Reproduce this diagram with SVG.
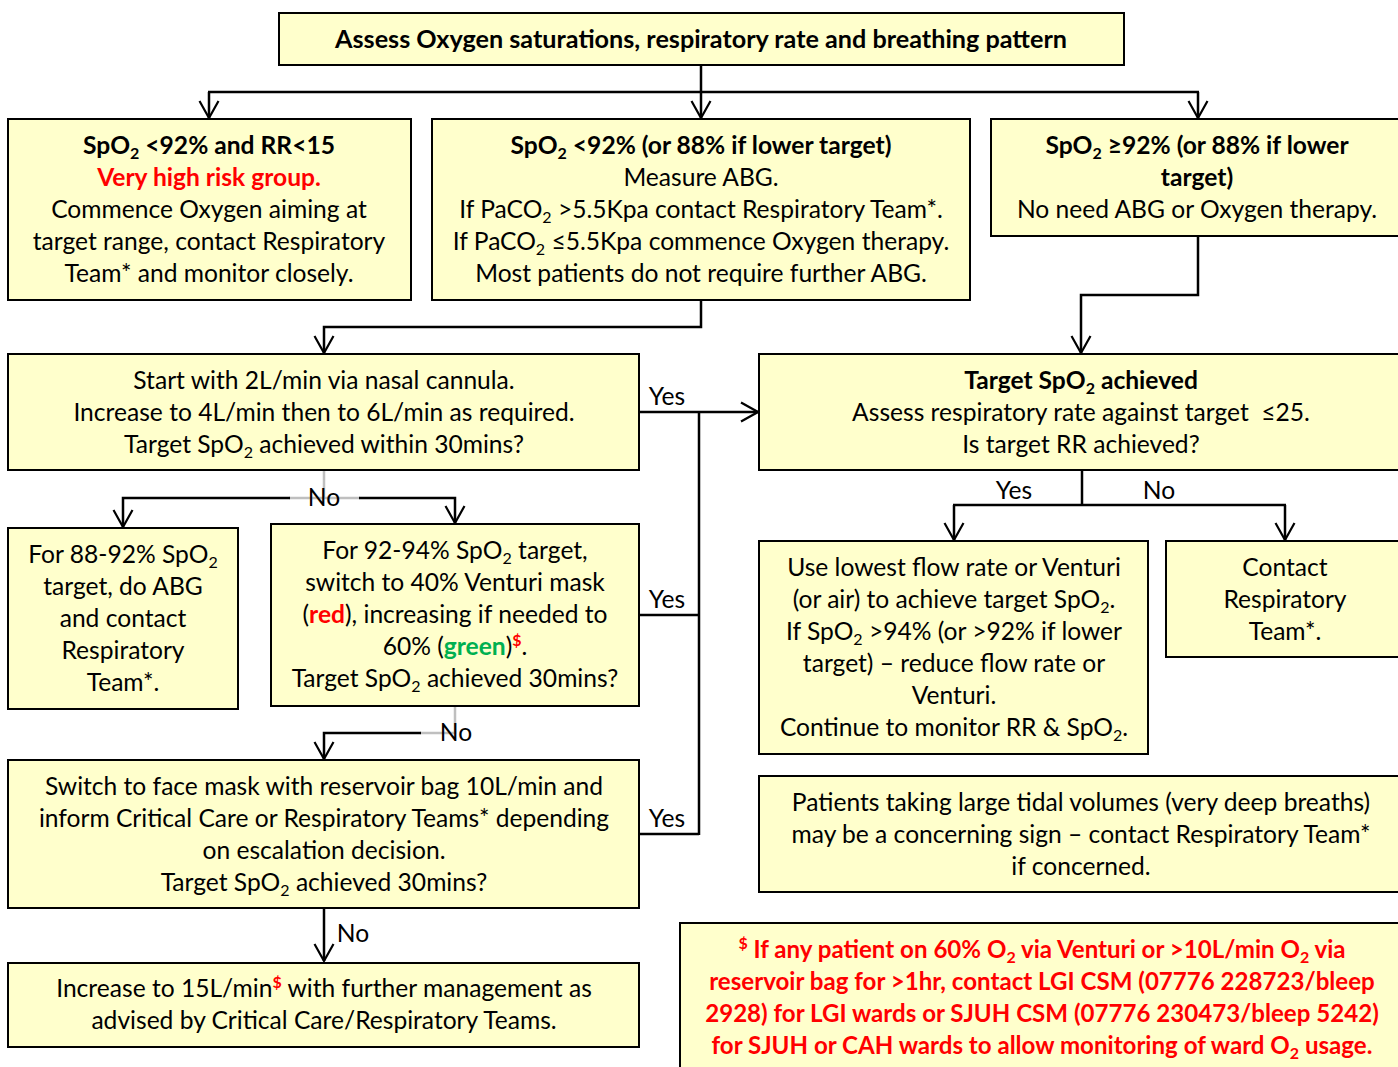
<svg xmlns="http://www.w3.org/2000/svg" width="1398" height="1067" viewBox="0 0 1398 1067">
<style>
.box{fill:#FFFFCC;stroke:#000;stroke-width:2}
text{font-family:Lato,"Liberation Sans",sans-serif;font-size:24.6px;fill:#000;text-anchor:middle}
.b{font-weight:bold}
.title{font-size:25.2px}
.red{fill:#FF0000}
.grn{fill:#00B050}
.fn{font-size:24.1px}
.sub{font-size:16px;baseline-shift:-5px}
.sup{font-size:16px;baseline-shift:9px;font-weight:bold;fill:#FF0000}
.ln{fill:none;stroke:#000;stroke-width:2.5}
.gr{fill:none;stroke:#BFBFBF;stroke-width:2.5}
</style>
<defs>
<marker id="arr" viewBox="-20 -12 22 24" markerWidth="22" markerHeight="24" refX="0" refY="0" markerUnits="userSpaceOnUse" orient="auto">
<path d="M-17,-9.5 L0,0 L-17,9.5" fill="none" stroke="#000" stroke-width="2.2"/>
</marker>
</defs>
<rect width="1398" height="1067" fill="#fff"/>

<g id="connectors">
<path class="ln" d="M701,65 V92"/>
<path class="ln" d="M208,92 H1199"/>
<path class="ln" d="M209,92 V118" marker-end="url(#arr)"/>
<path class="ln" d="M701,92 V118" marker-end="url(#arr)"/>
<path class="ln" d="M1198,92 V118" marker-end="url(#arr)"/>
<path class="ln" d="M701,300 V327 H324 V353" marker-end="url(#arr)"/>
<path class="ln" d="M1198,236 V295 H1081 V353" marker-end="url(#arr)"/>
<path class="ln" d="M640,412 H758" marker-end="url(#arr)"/>
<path class="ln" d="M699,412 V835"/>
<path class="ln" d="M640,615 H699"/>
<path class="ln" d="M640,834 H699"/>
<path class="gr" d="M324,470 V498 M289,498 H360"/>
<path class="ln" d="M290,498 H123 V527" marker-end="url(#arr)"/>
<path class="ln" d="M359,498 H455 V523" marker-end="url(#arr)"/>
<path class="gr" d="M455,706 V733 H420"/>
<path class="ln" d="M421,733 H324 V759" marker-end="url(#arr)"/>
<path class="ln" d="M324,908 V961" marker-end="url(#arr)"/>
<path class="ln" d="M1082,470 V505"/>
<path class="ln" d="M953,505 H1286"/>
<path class="ln" d="M954,505 V540" marker-end="url(#arr)"/>
<path class="ln" d="M1285,505 V540" marker-end="url(#arr)"/>
<text x="667" y="405">Yes</text>
<text x="667" y="608">Yes</text>
<text x="667" y="827">Yes</text>
<text x="324" y="506">No</text>
<text x="456" y="741">No</text>
<text x="353" y="942">No</text>
<text x="1014" y="499">Yes</text>
<text x="1159" y="499">No</text>
</g>

<g id="assess">
<rect class="box" x="279" y="13" width="845" height="52"/>
<text class="b title" x="701" y="48">Assess Oxygen saturations, respiratory rate and breathing pattern</text>
</g>

<g id="very-high-risk">
<rect class="box" x="8" y="119" width="403" height="181"/>
<text class="b" x="209" y="154">SpO<tspan class="sub">2</tspan> &lt;92% and RR&lt;15</text>
<text class="b red" x="209" y="186">Very high risk group.</text>
<text x="209" y="218">Commence Oxygen aiming at</text>
<text x="209" y="250">target range, contact Respiratory</text>
<text x="209" y="282">Team* and monitor closely.</text>
</g>

<g id="measure-abg">
<rect class="box" x="432" y="119" width="538" height="181"/>
<text class="b" x="701" y="154">SpO<tspan class="sub">2</tspan> &lt;92% (or 88% if lower target)</text>
<text x="701" y="186">Measure ABG.</text>
<text x="701" y="218">If PaCO<tspan class="sub">2</tspan> &gt;5.5Kpa contact Respiratory Team*.</text>
<text x="701" y="250">If PaCO<tspan class="sub">2</tspan> ≤5.5Kpa commence Oxygen therapy.</text>
<text x="701" y="282">Most patients do not require further ABG.</text>
</g>

<g id="no-need">
<rect class="box" x="991" y="119" width="415" height="117"/>
<text class="b" x="1197" y="154">SpO<tspan class="sub">2</tspan> ≥92% (or 88% if lower</text>
<text class="b" x="1197" y="186">target)</text>
<text x="1197" y="218">No need ABG or Oxygen therapy.</text>
</g>

<g id="nasal-cannula">
<rect class="box" x="8" y="354" width="631" height="116"/>
<text x="324" y="389">Start with 2L/min via nasal cannula.</text>
<text x="324" y="421">Increase to 4L/min then to 6L/min as required.</text>
<text x="324" y="453">Target SpO<tspan class="sub">2</tspan> achieved within 30mins?</text>
</g>

<g id="target-achieved">
<rect class="box" x="759" y="354" width="647" height="116"/>
<text class="b" x="1081" y="389">Target SpO<tspan class="sub">2</tspan> achieved</text>
<text x="1081" y="421">Assess respiratory rate against target&#160; ≤25.</text>
<text x="1081" y="453">Is target RR achieved?</text>
</g>

<g id="abg-88-92">
<rect class="box" x="8" y="528" width="230" height="181"/>
<text x="123" y="563">For 88-92% SpO<tspan class="sub">2</tspan></text>
<text x="123" y="595">target, do ABG</text>
<text x="123" y="627">and contact</text>
<text x="123" y="659">Respiratory</text>
<text x="123" y="691">Team*.</text>
</g>

<g id="venturi">
<rect class="box" x="271" y="524" width="368" height="182"/>
<text x="455" y="559">For 92-94% SpO<tspan class="sub">2</tspan> target,</text>
<text x="455" y="591">switch to 40% Venturi mask</text>
<text x="455" y="623">(<tspan class="b red">red</tspan>), increasing if needed to</text>
<text x="455" y="655">60% (<tspan class="b grn">green</tspan>)<tspan class="sup">$</tspan>.</text>
<text x="455" y="687">Target SpO<tspan class="sub">2</tspan> achieved 30mins?</text>
</g>

<g id="reservoir">
<rect class="box" x="8" y="760" width="631" height="148"/>
<text x="324" y="795">Switch to face mask with reservoir bag 10L/min and</text>
<text x="324" y="827">inform Critical Care or Respiratory Teams* depending</text>
<text x="324" y="859">on escalation decision.</text>
<text x="324" y="891">Target SpO<tspan class="sub">2</tspan> achieved 30mins?</text>
</g>

<g id="increase-15">
<rect class="box" x="8" y="963" width="631" height="84"/>
<text x="324" y="997">Increase to 15L/min<tspan class="sup">$</tspan> with further management as</text>
<text x="324" y="1029">advised by Critical Care/Respiratory Teams.</text>
</g>

<g id="lowest-flow">
<rect class="box" x="759" y="541" width="389" height="213"/>
<text x="954" y="576">Use lowest flow rate or Venturi</text>
<text x="954" y="608">(or air) to achieve target SpO<tspan class="sub">2</tspan>.</text>
<text x="954" y="640">If SpO<tspan class="sub">2</tspan> &gt;94% (or &gt;92% if lower</text>
<text x="954" y="672">target) – reduce flow rate or</text>
<text x="954" y="704">Venturi.</text>
<text x="954" y="736">Continue to monitor RR &amp; SpO<tspan class="sub">2</tspan>.</text>
</g>

<g id="contact-resp">
<rect class="box" x="1166" y="541" width="240" height="116"/>
<text x="1285" y="576">Contact</text>
<text x="1285" y="608">Respiratory</text>
<text x="1285" y="640">Team*.</text>
</g>

<g id="tidal-volumes">
<rect class="box" x="759" y="776" width="647" height="116"/>
<text x="1081" y="811">Patients taking large tidal volumes (very deep breaths)</text>
<text x="1081" y="843">may be a concerning sign – contact Respiratory Team*</text>
<text x="1081" y="875">if concerned.</text>
</g>

<g id="footnote">
<rect class="box" x="680" y="923" width="726" height="160"/>
<text class="b red fn" x="1042" y="958"><tspan class="sup">$</tspan> If any patient on 60% O<tspan class="sub">2</tspan> via Venturi or &gt;10L/min O<tspan class="sub">2</tspan> via</text>
<text class="b red fn" x="1042" y="990">reservoir bag for &gt;1hr, contact LGI CSM (07776 228723/bleep</text>
<text class="b red fn" x="1042" y="1022">2928) for LGI wards or SJUH CSM (07776 230473/bleep 5242)</text>
<text class="b red fn" x="1042" y="1054">for SJUH or CAH wards to allow monitoring of ward O<tspan class="sub">2</tspan> usage.</text>
</g>
</svg>
